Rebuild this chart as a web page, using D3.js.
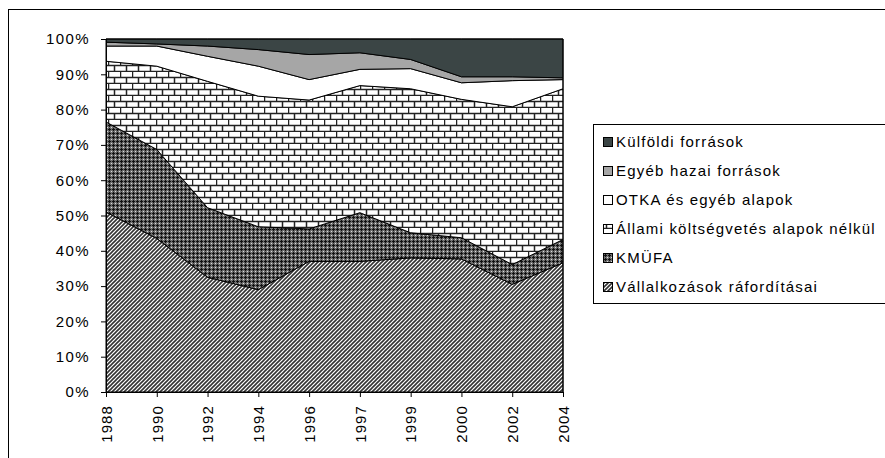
<!DOCTYPE html>
<html>
<head>
<meta charset="utf-8">
<script src="https://cdn.jsdelivr.net/npm/d3@7"></script>
<style>
  body { margin: 0; background: #fff; }
  svg { display: block; }
  text { font-family: "Liberation Sans", Arial, sans-serif; fill: #000; }
</style>
</head>
<body>
<svg id="chart" width="885" height="458"></svg>
<script>
// data (percent of total)
const years = ["1988", "1990", "1992", "1994", "1996", "1997", "1999", "2000", "2002", "2004"];
const vallalkozasok = [51, 43.5, 32.5, 29, 37, 37, 38, 37.7, 30.5, 36.6];
const kmufa = [25.5, 25.2, 19.7, 17.8, 9.2, 13.8, 7.1, 6, 5.6, 6.6];
const allami = [17.2, 23.6, 35.8, 37, 36.5, 36, 40.8, 39.2, 44.7, 42.7];
const otka = [4.3, 5.7, 7.1, 8.5, 5.8, 4.6, 5.7, 4.7, 7.4, 2.6];
const egyeb = [1.1, 0.6, 2.9, 4.7, 7.1, 4.7, 2.6, 1.7, 1.1, 0.5];
const kulfoldi = [0.9, 1.4, 2, 3, 4.4, 3.9, 5.8, 10.7, 10.7, 11];
const yTicks = [0, 10, 20, 30, 40, 50, 60, 70, 80, 90, 100];

// stack order bottom -> top
const seriesKeys = ["v", "k", "a", "o", "e", "f"];
const seriesNames = {
    v: "Vállalkozások ráfordításai",
    k: "KMÜFA",
    a: "Állami költségvetés alapok nélkül",
    o: "OTKA és egyéb alapok",
    e: "Egyéb hazai források",
    f: "Külföldi források"
};
const seriesFill = {
    v: "url(#pHatch)",
    k: "url(#pCross)",
    a: "url(#pBrick)",
    o: "#ffffff",
    e: "#a6a6a6",
    f: "#3b4545"
};

const rows = years.map((y, i) => ({
    year: y, v: vallalkozasok[i], k: kmufa[i], a: allami[i],
    o: otka[i], e: egyeb[i], f: kulfoldi[i]
}));

const svg = d3.select("#chart");
const defs = svg.append("defs");

// diagonal hatch (/)
const ph = defs.append("pattern").attr("id", "pHatch")
    .attr("patternUnits", "userSpaceOnUse").attr("width", 4).attr("height", 4);
ph.append("rect").attr("width", 4).attr("height", 4).attr("fill", "#fff");
ph.append("path").attr("d", "M-1,1 L1,-1 M0,4 L4,0 M3,5 L5,3")
    .attr("stroke", "#333").attr("stroke-width", 1.6);

// dark cross pattern
const pc = defs.append("pattern").attr("id", "pCross")
    .attr("patternUnits", "userSpaceOnUse").attr("width", 4).attr("height", 4);
pc.append("rect").attr("width", 4).attr("height", 4).attr("fill", "#6e6e6e");
pc.append("rect").attr("x", 1).attr("y", 0).attr("width", 1).attr("height", 3).attr("fill", "#111");
pc.append("rect").attr("x", 0).attr("y", 1).attr("width", 3).attr("height", 1).attr("fill", "#111");
pc.append("rect").attr("x", 3).attr("y", 3).attr("width", 1).attr("height", 1).attr("fill", "#ddd");

// brick pattern
const pb = defs.append("pattern").attr("id", "pBrick")
    .attr("patternUnits", "userSpaceOnUse").attr("width", 12).attr("height", 12);
pb.append("rect").attr("width", 12).attr("height", 12).attr("fill", "#fff");
pb.append("path")
    .attr("d", "M0,5.5 H12 M0,11.5 H12 M0.5,0 V6 M6.5,6 V12")
    .attr("stroke", "#222").attr("stroke-width", 1.5).attr("fill", "none");

// outer chart border
svg.append("rect")
    .attr("x", 8.5).attr("y", 9.5).attr("width", 900).attr("height", 460)
    .attr("fill", "none").attr("stroke", "#000").attr("stroke-width", 1);

const x = d3.scalePoint().domain(years).range([106, 563]);
const y = d3.scaleLinear().domain([0, 100]).range([392, 39]);

const stack = d3.stack().keys(seriesKeys).offset(d3.stackOffsetExpand);
const stacked = stack(rows);

const area = d3.area()
    .x(d => x(d.data.year))
    .y0(d => y(d[0] * 100))
    .y1(d => y(d[1] * 100));

const g = svg.append("g");
g.selectAll("path.area")
    .data(stacked)
    .join("path")
    .attr("class", "area")
    .attr("d", area)
    .attr("fill", d => seriesFill[d.key])
    .attr("stroke", "#000")
    .attr("stroke-width", 1);

// plot frame top / right
g.append("path")
    .attr("d", `M${x("1988")},${y(100)} H${x("2004")} V${y(0)}`)
    .attr("fill", "none").attr("stroke", "#000").attr("stroke-width", 1);

// y axis
const yAxis = svg.append("g")
    .attr("transform", `translate(${x("1988")},0)`)
    .call(d3.axisLeft(y).tickValues(yTicks).tickSize(5).tickPadding(11)
        .tickFormat(d => d + "%"));
yAxis.selectAll("text").style("font-size", "15px").style("letter-spacing", "1.4px");

// x axis
const xAxis = svg.append("g")
    .attr("transform", `translate(0,${y(0)})`)
    .call(d3.axisBottom(x).tickSize(5).tickPadding(0));
xAxis.selectAll("text")
    .style("font-size", "15px").style("letter-spacing", "1.1px")
    .attr("text-anchor", "end")
    .attr("transform", "translate(0,13) rotate(-90)")
    .attr("x", 0).attr("y", 0).attr("dy", "0.35em");

svg.selectAll(".domain, .tick line").attr("stroke", "#000");

// legend
const legend = svg.append("g");
legend.append("rect")
    .attr("x", 593.5).attr("y", 124.5).attr("width", 300).attr("height", 179)
    .attr("fill", "#fff").attr("stroke", "#000").attr("stroke-width", 1);

const legendKeys = seriesKeys.slice().reverse();
const ly = d3.scalePoint().domain(legendKeys).range([142, 287]);
const item = legend.selectAll("g.item")
    .data(legendKeys)
    .join("g")
    .attr("class", "item")
    .attr("transform", d => `translate(0,${ly(d)})`);
item.append("rect")
    .attr("x", 603.5).attr("y", -4.5).attr("width", 9).attr("height", 9)
    .attr("fill", d => seriesFill[d]).attr("stroke", "#000");
item.append("text")
    .attr("x", 616).attr("dy", "0.35em")
    .style("font-size", "15px").style("letter-spacing", "1.2px")
    .text(d => seriesNames[d]);
</script>
</body>
</html>
